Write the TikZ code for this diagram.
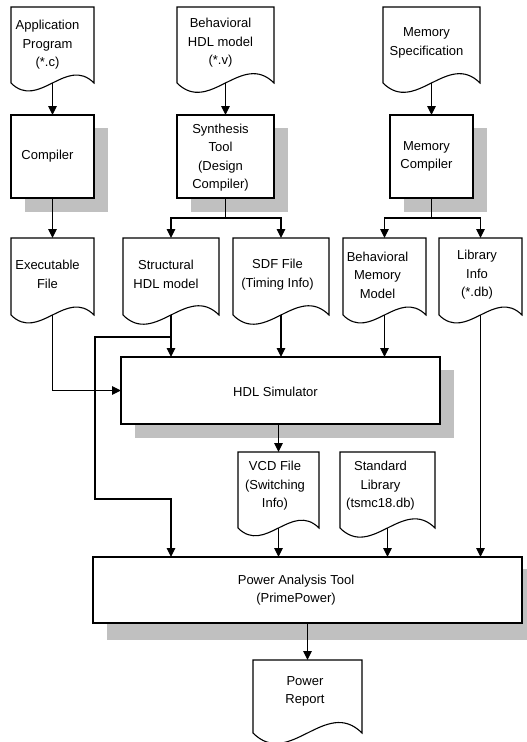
\documentclass[tikz,border=0pt]{standalone}
\usepackage{fontspec}
\setmainfont{Liberation Sans}
\usetikzlibrary{arrows.meta,calc,backgrounds}
\definecolor{shadowgray}{RGB}{192,192,192}
\begin{document}
\begin{tikzpicture}[x=1pt,y=-1pt,
  ln/.style={line width=1.1pt},
  arr/.style={line width=1.1pt,-{Triangle[length=9pt,width=8.5pt]}},
  plain/.style={inner sep=0pt,outer sep=0pt},
  boxnode/.style={plain,draw,line width=1.1pt,fill=white},
  docnode/.style={plain},
  tx/.style={font=\fontsize{13}{18.5}\selectfont,align=center,inner sep=0pt,xshift=-5pt},
  shadow/.style={fill=shadowgray}]
\useasboundingbox (0,0) rectangle (527,742);

% top documents
\node[docnode,minimum width=83pt,minimum height=76pt,label={[tx]center:{Application\\Program\\(*.c)}}] (app) at (52.5,45) {};
\node[docnode,minimum width=97pt,minimum height=76pt,label={[tx,yshift=2pt]center:{Behavioral\\HDL model\\(*.v)}}] (beh) at (225.5,45) {};
\node[docnode,minimum width=97pt,minimum height=76pt,label={[tx,yshift=2pt]center:{Memory\\Specification}}] (memspec) at (431.5,45) {};

% tools
\node[boxnode,minimum width=83pt,minimum height=83pt,label={[tx]center:{Compiler}}] (compiler) at (52.5,156.5) {};
\node[boxnode,minimum width=97pt,minimum height=83pt,label={[tx,yshift=-1pt]center:{Synthesis\\Tool\\(Design\\Compiler)}}] (synth) at (225.5,156.5) {};
\node[boxnode,minimum width=83pt,minimum height=83pt,label={[tx]center:{Memory\\Compiler}}] (memcomp) at (431.5,156.5) {};

% second row documents
\node[docnode,minimum width=83pt,minimum height=77pt,label={[tx,yshift=2pt]center:{Executable\\File}}] (exe) at (52.5,276.5) {};
\node[docnode,minimum width=96pt,minimum height=77pt,label={[tx,yshift=2pt]center:{Structural\\HDL model}}] (struct) at (171,276.5) {};
\node[docnode,minimum width=96pt,minimum height=77pt,label={[tx,yshift=2pt,xshift=1.5pt]center:{SDF File\\(Timing Info)}}] (sdf) at (281,276.5) {};
\node[docnode,minimum width=83pt,minimum height=77pt,label={[tx,yshift=1.5pt,xshift=-2pt]center:{Behavioral\\Memory\\Model}}] (bmm) at (384.5,276.5) {};
\node[docnode,minimum width=83pt,minimum height=77pt,label={[tx,yshift=1.5pt,xshift=1.5pt]center:{Library\\Info\\(*.db)}}] (lib) at (480.5,276.5) {};

% simulator
\node[boxnode,minimum width=319pt,minimum height=67pt,label={[tx,yshift=-1.5pt]center:{HDL Simulator}}] (hdl) at (280.5,390.5) {};

% third row documents
\node[docnode,minimum width=81pt,minimum height=76pt,label={[tx,yshift=4pt,xshift=1.5pt]center:{VCD File\\(Switching\\Info)}}] (vcd) at (278.5,490) {};
\node[docnode,minimum width=95pt,minimum height=76pt,label={[tx,yshift=4pt,xshift=-2pt]center:{Standard\\Library\\(tsmc18.db)}}] (stdlib) at (387.5,490) {};

% power tool
\node[boxnode,minimum width=429pt,minimum height=66pt,label={[tx,xshift=-6.5pt]center:{Power Analysis Tool\\(PrimePower)}}] (power) at (307.5,590) {};

% report
\node[docnode,minimum width=109pt,minimum height=73pt,label={[tx,yshift=5pt,xshift=2.5pt]center:{Power\\Report}}] (report) at (307.5,696.5) {};

% shadows
\begin{pgfonlayer}{background}
  \foreach \n in {compiler,synth,memcomp,hdl}
    \fill[shadow] ($(\n.north west)+(14,13)$) rectangle ($(\n.south east)+(14,14)$);
  \begin{scope}
    \clip (0,0) rectangle (527,742);
    \fill[shadow] ($(power.north west)+(14,12)$) rectangle ($(power.south east)+(14,17)$);
  \end{scope}
\end{pgfonlayer}

% document outlines
\foreach \n in {app,beh,memspec,exe,struct,sdf,bmm,lib,vcd,stdlib,report}
  \draw[ln] (\n.south west) -- (\n.north west) -- (\n.north east) -- (\n.south east)
    .. controls ($(\n.south east)!.333!(\n.south west)!.5!-90:(\n.south west)$)
    and ($(\n.south east)!.667!(\n.south west)!1!90:(\n.south west)$) .. (\n.south west);

% junctions
\coordinate (sj) at ($(synth.south)+(0,20)$);
\coordinate (mj) at ($(memcomp.south)+(0,20)$);
\coordinate (sb) at ($(struct.south)+(0,22)$);
\coordinate (pin) at (struct |- power.north);

% connectors
\draw[arr] (app) -- (compiler);
\draw[arr] (beh) -- (synth);
\draw[arr] (memspec) -- (memcomp);
\draw[arr] (compiler) -- (exe);
\draw[ln] (synth) -- (sj);
\draw[arr] (sj) -| (struct);
\draw[arr] (sj) -| (sdf);
\draw[ln] (memcomp) -- (mj);
\draw[arr] (mj) -| (bmm);
\draw[arr] (mj) -| (lib);
\draw[arr] (exe) |- (hdl);
\draw[arr] (struct) -- (struct |- hdl.north);
\draw[arr] (sdf) -- (sdf |- hdl.north);
\draw[arr] (bmm) -- (bmm |- hdl.north);
\draw[arr] (sb) -| ($(sb)+(-76,162)$) -| (pin);
\draw[arr] (lib) -- (lib |- power.north);
\draw[arr] (hdl.south -| vcd) -- (vcd);
\draw[arr] (vcd) -- (vcd |- power.north);
\draw[arr] (stdlib) -- (stdlib |- power.north);
\draw[arr] (power.south -| report) -- (report);
\end{tikzpicture}
\end{document}
